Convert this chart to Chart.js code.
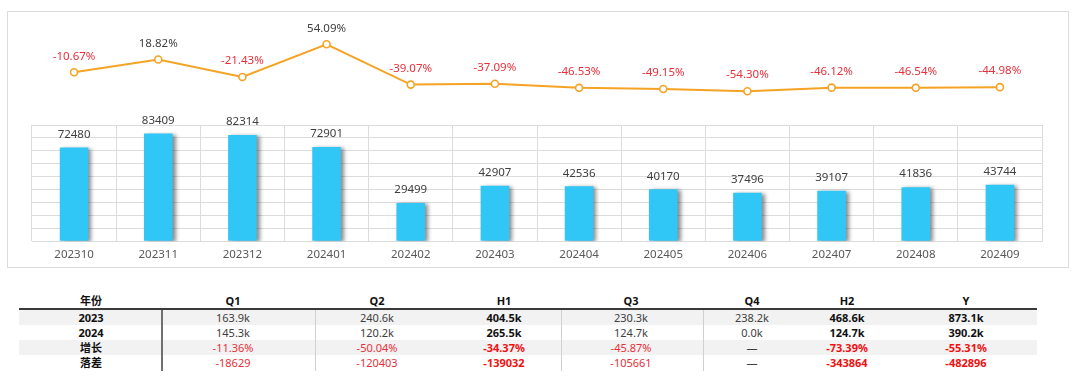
<!DOCTYPE html>
<html>
<head>
<meta charset="utf-8">
<script src="https://cdn.jsdelivr.net/npm/chart.js@4"></script>
<style>
  html, body { margin:0; padding:0; background:#fff; width:1080px; height:376px; overflow:hidden; }
  body { position:relative; font-family:"Noto Sans","Noto Sans CJK SC",sans-serif; }
  #card { position:absolute; left:7px; top:11px; width:1060px; height:255px; border:1px solid #dcdcdc; box-sizing:content-box; }
  #lineWrap { position:absolute; left:0; top:0; width:1080px; height:120px; }
  #barWrap { position:absolute; left:0; top:100px; width:1080px; height:174px; }
  .cell { position:absolute; transform:translate(-50%,-50%); font-size:11px; white-space:nowrap; line-height:1; }
  .band { position:absolute; left:19px; width:1018px; height:15px; background:#f2f2f2; }
  .vline { position:absolute; top:310px; height:61px; width:1px; background:#d0d0d0; }
</style>
</head>
<body>
<div id="card"></div>
<div id="lineWrap"><canvas id="lineChart" width="1080" height="120"></canvas></div>
<div id="barWrap"><canvas id="barChart" width="1080" height="174"></canvas></div>
<div id="table"></div>
<script>
// ---- data ----
const months = ['202310','202311','202312','202401','202402','202403','202404','202405','202406','202407','202408','202409'];
const salesValues = [72480, 83409, 82314, 72901, 29499, 42907, 42536, 40170, 37496, 39107, 41836, 43744];
const growthPct = [-10.67, 18.82, -21.43, 54.09, -39.07, -37.09, -46.53, -49.15, -54.30, -46.12, -46.54, -44.98];

const tableHeaders = ['年份','Q1','Q2','H1','Q3','Q4','H2','Y'];
const rowLabels = ['2023','2024','增长','落差'];
const row2023 = ['163.9k','240.6k','404.5k','230.3k','238.2k','468.6k','873.1k'];
const row2024 = ['145.3k','120.2k','265.5k','124.7k','0.0k','124.7k','390.2k'];
const rowGrowth = ['-11.36%','-50.04%','-34.37%','-45.87%','—','-73.39%','-55.31%'];
const rowDiff = ['-18629','-120403','-139032','-105661','—','-343864','-482896'];
const boldCols = ['H1','H2','Y'];

// ---- styles ----
const FONT = '"Noto Sans","Noto Sans CJK SC",sans-serif';
const RED = '#e8303a';
const GREY_TXT = '#404040';
const GRID = '#dcdcdc';
const PAD_L = 32, PAD_R = 38;

// line labels plugin
const lineLabels = {
  id:'lineLabels',
  afterDatasetsDraw(chart){
    const ctx = chart.ctx;
    const meta = chart.getDatasetMeta(0);
    ctx.save();
    ctx.font = '11.5px ' + FONT;
    ctx.textAlign = 'center';
    ctx.textBaseline = 'middle';
    meta.data.forEach((pt, i) => {
      const v = growthPct[i];
      ctx.fillStyle = v < 0 ? RED : GREY_TXT;
      ctx.fillText(v.toFixed(2) + '%', pt.x, pt.y - 16);
    });
    ctx.restore();
  }
};

new Chart(document.getElementById('lineChart'), {
  type:'line',
  data:{ labels: months, datasets:[{
    data: growthPct,
    borderColor:'#f5a324', borderWidth:2,
    pointRadius:3.5, pointBorderWidth:1.6, pointBackgroundColor:'#fff', pointBorderColor:'#f5a324',
    tension:0
  }]},
  options:{
    responsive:false, animation:false,
    layout:{ padding:{ left:PAD_L, right:PAD_R, top:33, bottom:9 } },
    plugins:{ legend:{display:false}, tooltip:{enabled:false} },
    scales:{
      x:{ display:false, offset:true },
      y:{ display:false, min:-100, max:80 }
    }
  },
  plugins:[lineLabels]
});

// bar shadow + labels
const barDeco = {
  id:'barDeco',
  beforeDatasetsDraw(chart){
    const ctx = chart.ctx;
    ctx.save();
    ctx.shadowColor = 'rgba(0,0,0,0.45)';
    ctx.shadowBlur = 4;
    ctx.shadowOffsetX = 3;
    ctx.shadowOffsetY = 1;
  },
  afterDatasetsDraw(chart){
    const ctx = chart.ctx;
    ctx.restore();
    const meta = chart.getDatasetMeta(0);
    ctx.save();
    ctx.font = '11.5px ' + FONT;
    ctx.textAlign = 'center';
    ctx.textBaseline = 'middle';
    ctx.fillStyle = GREY_TXT;
    meta.data.forEach((bar, i) => {
      ctx.fillText(String(salesValues[i]), bar.x, bar.y - 13);
    });
    ctx.restore();
  }
};

new Chart(document.getElementById('barChart'), {
  type:'bar',
  data:{ labels: months, datasets:[{
    data: salesValues,
    backgroundColor:'#30c6f6',
    borderWidth:0,
    barPercentage:0.34, categoryPercentage:1
  }]},
  options:{
    responsive:false, animation:false,
    layout:{ padding:{ left:PAD_L, right:PAD_R, top:25, bottom:5 } },
    plugins:{ legend:{display:false}, tooltip:{enabled:false} },
    scales:{
      x:{
        offset:true,
        grid:{ color:GRID, drawTicks:false, offset:true },
        border:{ color:GRID },
        ticks:{ color:'#595959', font:{ size:11.5, family:FONT }, padding:7, maxRotation:0 }
      },
      y:{
        min:0, max:90000,
        ticks:{ display:false, stepSize:10000 },
        grid:{ color:GRID, drawTicks:false },
        border:{ display:false }
      }
    }
  },
  plugins:[barDeco]
});

// ---- table ----
const tbl = document.getElementById('table');
const colX = [91, 233, 377, 504, 631, 752, 847, 966];
const rowY = [317, 332, 347, 362];
const headerY = 300;

function addDiv(cls, style, text){
  const d = document.createElement('div');
  d.className = cls;
  Object.assign(d.style, style);
  if (text !== undefined) d.textContent = text;
  tbl.appendChild(d);
  return d;
}
// bands
addDiv('band', { top:'310px' });
addDiv('band', { top:'340px' });
// header underline
addDiv('', { position:'absolute', left:'19px', top:'308px', width:'1018px', height:'2px', background:'#3a3a3a' });
// vertical lines
addDiv('vline', { left:'161px', background:'#707070', width:'1.5px' });
[315, 561, 703].forEach(x => addDiv('vline', { left:x + 'px' }));

tableHeaders.forEach((h, i) => {
  addDiv('cell', { left:colX[i] + 'px', top:headerY + 'px', fontWeight:'bold', color:'#111' }, h);
});
const rows = [row2023, row2024, rowGrowth, rowDiff];
rows.forEach((r, ri) => {
  addDiv('cell', { left:colX[0] + 'px', top:rowY[ri] + 'px', fontWeight:'bold', color:'#111' }, rowLabels[ri]);
  r.forEach((v, ci) => {
    const bold = boldCols.includes(tableHeaders[ci + 1]);
    const isRedRow = ri >= 2;
    let color = bold ? '#111' : GREY_TXT;
    if (isRedRow && v !== '—') color = bold ? '#f01010' : RED;
    addDiv('cell', { left:colX[ci + 1] + 'px', top:rowY[ri] + 'px', fontWeight: bold ? 'bold' : 'normal', color }, v);
  });
});
</script>
</body>
</html>
